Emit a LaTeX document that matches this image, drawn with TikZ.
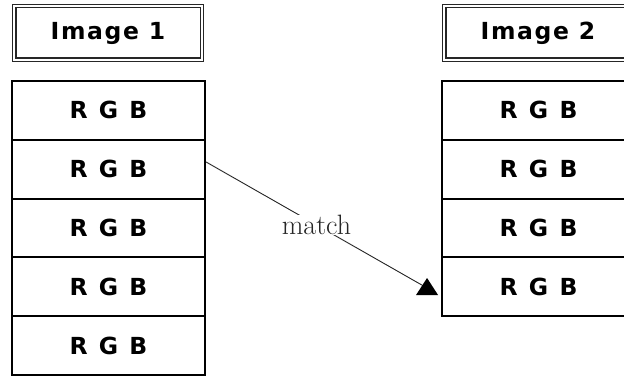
\documentclass[tikz,border=0pt]{standalone}
\usepackage{fontspec}
\newfontfamily\boxfont[LetterSpace=7]{DejaVu Sans}
\newfontfamily\rgbfont{DejaVu Sans}
\usetikzlibrary{calc}
\begin{document}
\begin{tikzpicture}[x=1pt,y=-1pt,
  titlebox/.style={draw=black!85, line width=1.3pt, double=white, double distance=2pt,
    minimum width=187.6pt, minimum height=53.6pt, inner sep=0pt,
    font=\boxfont\bfseries\fontsize{23.5}{26}\selectfont},
  rgbbox/.style={draw=black, line width=1.9pt, minimum width=193pt, minimum height=58.8pt,
    inner sep=0pt, font=\rgbfont\bfseries\fontsize{23.5}{26}\selectfont},
  lbl/.style={fill=white, inner sep=0.5pt, font=\fontsize{28}{30}\selectfont}
]
\useasboundingbox (0,0) rectangle (624,377);
\clip (0,0) rectangle (624,377);
\fill[white] (0,0) rectangle (624,377);
% titles
\node[titlebox] (t1) at (108,33) {Image 1};
\node[titlebox] (t2) at (538,33) {Image 2};
% left column
\foreach \i in {1,...,5}{
  \node[rgbbox] (l\i) at (108.5,{81+29.4+(\i-1)*58.8}) {\raisebox{-2pt}{R\hspace{0.48em}G\hspace{0.48em}B}};
}
% right column
\foreach \i in {1,...,4}{
  \node[rgbbox] (r\i) at (538.5,{81+29.4+(\i-1)*58.8}) {\raisebox{-2pt}{R\hspace{0.48em}G\hspace{0.48em}B}};
}
% match arrow
\coordinate (s) at ($(l2.north east)!0.38!(l2.south east)$);
\coordinate (tip) at ($(r4.west)+(-14,1.2)$);
\draw[line width=0.9pt, black!85] (s) -- (tip) node[midway, lbl] {match};
\fill[black] ($(tip)+(-11,7)$) -- ($(tip)+(11,7)$) -- ($(tip)+(0,-10)$) -- cycle;
\end{tikzpicture}
\end{document}
